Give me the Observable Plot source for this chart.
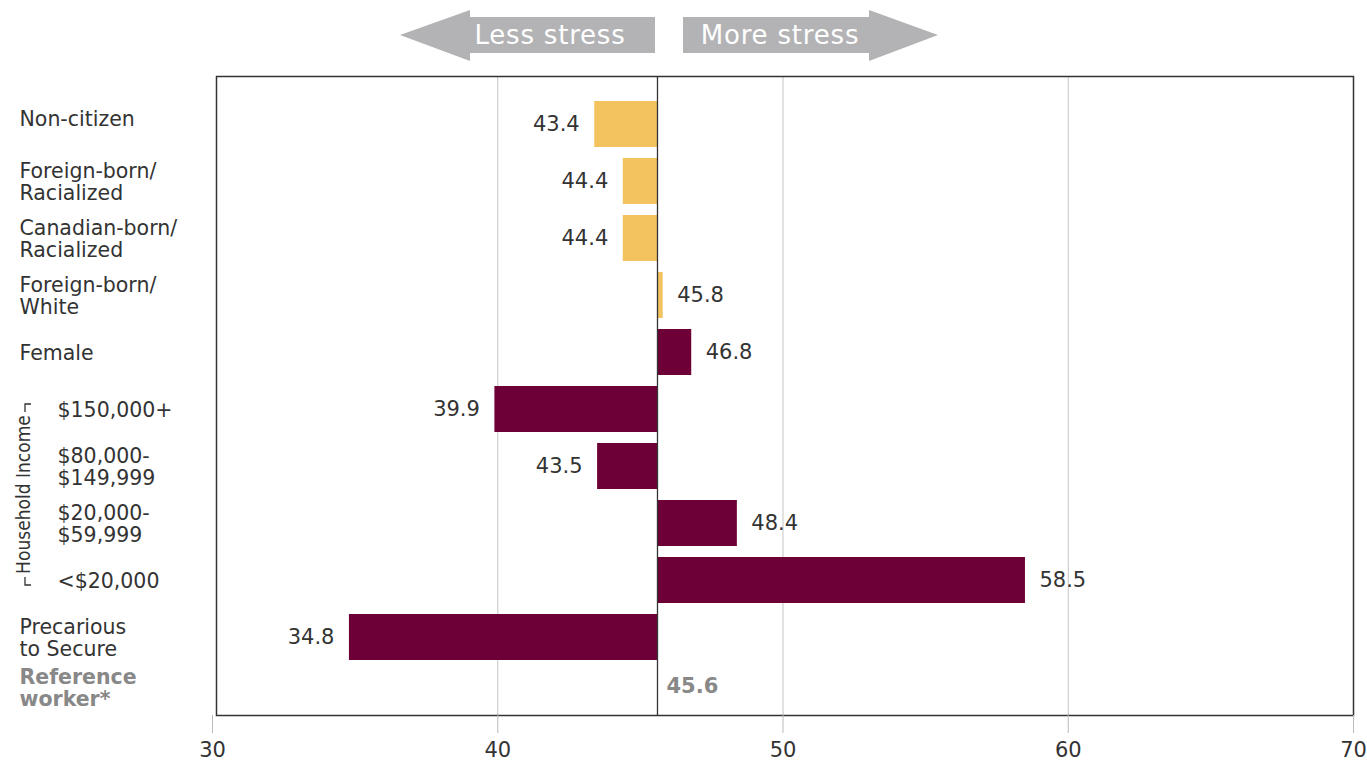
<!DOCTYPE html>
<html><head><meta charset="utf-8">
<script src="https://cdn.jsdelivr.net/npm/d3@7"></script>
<script src="https://cdn.jsdelivr.net/npm/@observablehq/plot@0.6"></script>
<style>
html,body{margin:0;padding:0;background:#fff;}
#chart{position:relative;width:1367px;height:761px;}
</style></head><body><div id="chart"></div>
<script>
const categories = ["Non-citizen", "Foreign-born/\nRacialized", "Canadian-born/\nRacialized", "Foreign-born/\nWhite", "Female", "$150,000+", "$80,000-\n$149,999", "$20,000-\n$59,999", "<$20,000", "Precarious\nto Secure", "Reference\nworker*"];
const values = [43.4, 44.4, 44.4, 45.8, 46.8, 39.9, 43.5, 48.4, 58.5, 34.8, 45.6];
const groups = ["status", "status", "status", "status", "other", "other", "other", "other", "other", "other", "reference"];
const referenceValue = 45.6;
const xTicks = [30, 40, 50, 60, 70];
const gridValues = [40, 50, 60];
const incomeCategories = categories.slice(5, 9);
const firstCategory = categories.slice(0, 1);
const plainCategories = categories.filter((c, i) => i > 0 && groups[i] !== "reference" && !incomeCategories.includes(c));
const referenceCategories = categories.filter((c, i) => groups[i] === "reference");
const arrowLabels = ["Less stress", "More stress"];
const groupLabel = "Household Income";

const colors = {status: "#F3C360", other: "#6E0038", reference: "#888888"};
const rows = categories.map((c, i) => ({category: c, value: values[i], group: groups[i]}));
const barRows = rows.filter(d => d.group !== "reference");
const leftRows = barRows.filter(d => d.value < referenceValue);
const rightRows = barRows.filter(d => d.value >= referenceValue);
const refRows = rows.filter(d => d.group === "reference");

const labelFont = "'DejaVu Sans', 'Noto Sans', sans-serif";
const condFont = "'DejaVu Sans Condensed', 'Liberation Sans Narrow', sans-serif";
const labelOpts = {tickSize: 0, tickPadding: 0, textAnchor: "start", fontSize: 20.5, lineHeight: 1.07, fill: "#333", label: null};

const plot = Plot.plot({
  width: 1367,
  height: 761,
  marginLeft: 216,
  marginRight: 14,
  marginTop: 76,
  marginBottom: 46,
  style: {fontFamily: labelFont, color: "#333", background: "#fff"},
  x: {domain: [30, 70], range: [212, 1353], label: null},
  y: {domain: categories, range: [89, 728], padding: 0.2, label: null},
  marks: [
    Plot.frame({fill: "#fff", stroke: "none", ariaLabel: "frame-bg"}),
    Plot.ruleX(gridValues, {stroke: "#c4c4c4", strokeWidth: 1}),
    Plot.barX(barRows, {y: "category", x1: () => referenceValue, x2: "value", fill: d => colors[d.group]}),
    Plot.ruleX([referenceValue], {stroke: "#333", strokeWidth: 1.3}),
    Plot.frame({stroke: "#333", strokeWidth: 1.5}),
    Plot.text(leftRows, {y: "category", x: "value", text: d => d.value.toFixed(1), textAnchor: "end", dx: -15, fontSize: 21, fill: "#333"}),
    Plot.text(rightRows, {y: "category", x: "value", text: d => d.value.toFixed(1), textAnchor: "start", dx: 14, fontSize: 21, fill: "#333"}),
    Plot.text(refRows, {y: "category", x: "value", text: d => d.value.toFixed(1), textAnchor: "start", dx: 9, dy: -8, fontSize: 21, fontWeight: "bold", fill: "#888"}),
    Plot.axisX({ticks: xTicks, tickSize: 18, tickPadding: 9, fontSize: 21, stroke: "#bbb", fill: "#333", label: null, tickFormat: d => String(d)}),
    Plot.axisY({...labelOpts, ticks: firstCategory, dx: -197, dy: -6}),
    Plot.axisY({...labelOpts, ticks: plainCategories, dx: -197}),
    Plot.axisY({...labelOpts, ticks: incomeCategories, dx: -159}),
    Plot.axisY({...labelOpts, ticks: referenceCategories, dx: -197, dy: -7, lineHeight: 1.08, fontWeight: "bold", fill: "#888"}),
    Plot.text([incomeCategories[1]], {y: d => d, frameAnchor: "left", dx: -193, dy: 28, rotate: -90, text: () => groupLabel, fontSize: 19, fontFamily: condFont, fill: "#333", textAnchor: "middle"})
  ]
});

document.getElementById("chart").appendChild(plot);

const svg = d3.select(plot);
svg.select('[aria-label="frame-bg"] rect').style("filter", "drop-shadow(-3px 7px 8px rgba(0,0,0,0.3))");

// bracket for the income group, tied to the y scale
const yS = plot.scale("y");
const bw = yS.bandwidth;
const yTop = yS.apply(incomeCategories[0]) + bw / 2 - 5;
const yBot = yS.apply(incomeCategories[3]) + bw / 2 + 5;
svg.append("path").attr("d", `M31,${yTop} H25 V${yTop + 8}`).attr("fill", "none").attr("stroke", "#333").attr("stroke-width", 1.3);
svg.append("path").attr("d", `M25,${yBot - 8} V${yBot} H31`).attr("fill", "none").attr("stroke", "#333").attr("stroke-width", 1.3);

// header arrows
const g = svg.append("g");
const arrowFill = "#b3b3b6";
g.append("path").attr("d", "M400,35 L470,10 L470,17 L655,17 L655,53 L470,53 L470,61 Z").attr("fill", arrowFill);
g.append("path").attr("d", "M938,35 L869,10 L869,17 L683,17 L683,53 L869,53 L869,61 Z").attr("fill", arrowFill);
g.append("text").attr("x", 550).attr("y", 35).attr("dy", "0.35em").attr("text-anchor", "middle")
  .attr("fill", "#fff").attr("font-size", 26).attr("letter-spacing", 0.8).attr("font-family", labelFont).text(arrowLabels[0]);
g.append("text").attr("x", 780).attr("y", 35).attr("dy", "0.35em").attr("text-anchor", "middle")
  .attr("fill", "#fff").attr("font-size", 26).attr("letter-spacing", 0.8).attr("font-family", labelFont).text(arrowLabels[1]);
</script></body></html>
